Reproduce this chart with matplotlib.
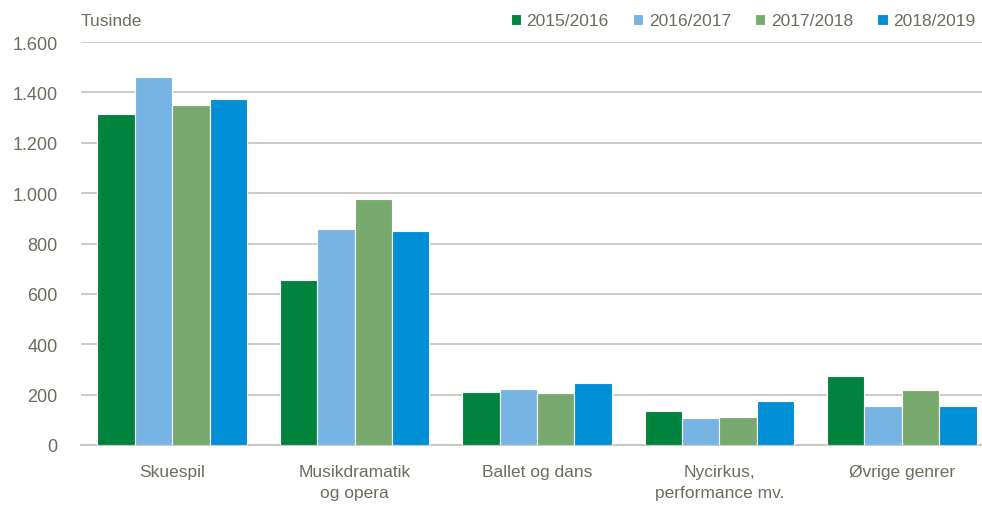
import matplotlib
matplotlib.use("Agg")
import matplotlib.pyplot as plt
import numpy as np

categories = ["Skuespil", "Musikdramatik\nog opera", "Ballet og dans",
              "Nycirkus,\nperformance mv.", "Øvrige genrer"]
series_names = ["2015/2016", "2016/2017", "2017/2018", "2018/2019"]
v2015 = [1316, 655, 209, 134, 274]
v2016 = [1463, 856, 224, 108, 156]
v2017 = [1350, 977, 205, 112, 217]
v2018 = [1372, 850, 246, 175, 156]
yticks = [0, 200, 400, 600, 800, 1000, 1200, 1400, 1600]
ytick_labels = ["0", "200", "400", "600", "800", "1.000", "1.200", "1.400", "1.600"]
colors = ["#00843D", "#78B4E3", "#78A96E", "#008FD5"]

text_color = "#6E6C5F"
grid_color = "#C3C2B6"
plt.rcParams["font.family"] = ["Liberation Sans", "DejaVu Sans"]

W, H = 982, 506
fig = plt.figure(figsize=(W / 100, H / 100), dpi=100)
left, right, top, bottom = 81, 993, 43, 446
ax = fig.add_axes([left / W, 1 - bottom / H, (right - left) / W, (bottom - top) / H])

x = np.arange(len(categories))
bw = 0.205
allv = [v2015, v2016, v2017, v2018]
for i, (vals, name, c) in enumerate(zip(allv, series_names, colors)):
    ax.bar(x + (i - 1.5) * bw, vals, width=bw, color=c, edgecolor="white",
           linewidth=0.8, label=name, zorder=3)

ax.set_xlim(-0.5, len(categories) - 0.5)
ax.set_ylim(0, 1600)
ax.set_yticks(yticks)
ax.set_yticklabels(ytick_labels)
ax.set_xticks(x)
ax.set_xticklabels(categories, linespacing=1.45)
ax.yaxis.grid(True, color=grid_color, linewidth=1.2, zorder=0)
for s in ["top", "right", "left"]:
    ax.spines[s].set_visible(False)
ax.spines["bottom"].set_color(grid_color)
ax.spines["bottom"].set_linewidth(1.2)
ax.tick_params(axis="both", length=0, labelsize=12.5, colors=text_color)
ax.tick_params(axis="y", pad=17, labelsize=13)
ax.tick_params(axis="x", pad=14)

fig.text(81 / W, 1 - 22 / H, "Tusinde", fontsize=12.5, color=text_color,
         va="center", ha="left")

leg = fig.legend(loc="center right", bbox_to_anchor=(975 / W, 1 - 22 / H), ncol=4,
                 frameon=False, fontsize=12.5, handlelength=0.6, handleheight=0.6,
                 handletextpad=0.3, columnspacing=1.4, borderaxespad=0, borderpad=0)
for t in leg.get_texts():
    t.set_color(text_color)

fig.savefig("out.png", dpi=100)
